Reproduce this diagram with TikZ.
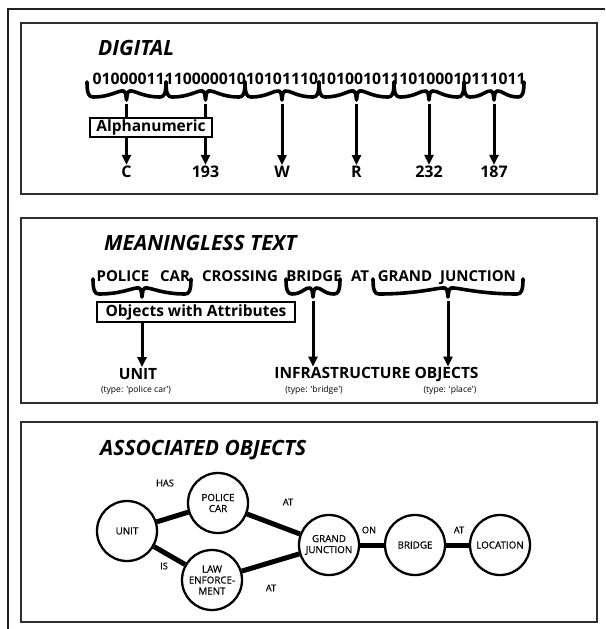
\documentclass[tikz,border=0pt]{standalone}
\usepackage{fontspec}
\setmainfont{Open Sans}
\newfontfamily\smallfont{Open Sans}[FakeBold=0.5]
\usetikzlibrary{arrows.meta}

% Heavy curly brace pointing down, from x=#1 to x=#2, hooks at y=#3; tip coordinate named #4
\newcommand\wavebrace[4]{%
  \pgfmathsetmacro\wbl{#1}%
  \pgfmathsetmacro\wbr{#2}%
  \pgfmathsetmacro\wbt{#3}%
  \pgfmathsetmacro\wbm{(#1+#2)/2}%
  \pgfmathsetmacro\wbw{#2-#1}%
  \draw[brc] (\wbl,\wbt)
    .. controls (\wbl,\wbt+12) and (\wbl+2,\wbt+15) .. (\wbl+6,\wbt+15)
    .. controls (\wbl+0.3*\wbw,\wbt+15) and (\wbm-8,\wbt+8) .. (\wbm-3,\wbt+9)
    .. controls (\wbm-1,\wbt+10) .. (\wbm,\wbt+18)
    .. controls (\wbm+1,\wbt+10) .. (\wbm+3,\wbt+9)
    .. controls (\wbm+8,\wbt+8) and (\wbr-0.3*\wbw,\wbt+15) .. (\wbr-6,\wbt+15)
    .. controls (\wbr-2,\wbt+15) and (\wbr,\wbt+12) .. (\wbr,\wbt);
  \coordinate (#4) at (\wbm,\wbt+18);
}

\begin{document}
\begin{tikzpicture}[x=1pt,y=-1pt,
  frame/.style={draw=black!88, line width=2pt},
  panel/.style={draw=black!82, line width=2pt},
  title/.style={font=\fontsize{21}{23}\selectfont\bfseries\itshape, anchor=west, inner sep=0pt},
  bits/.style={font=\fontsize{15.8}{18}\selectfont\bfseries, inner sep=0pt},
  word/.style={font=\fontsize{15}{17}\selectfont\bfseries, inner sep=0pt, anchor=base},
  brc/.style={line width=3.6pt, line cap=round, line join=round},
  arr/.style={line width=3pt, -{Triangle[length=10pt,width=9pt]}},
  lbl/.style={font=\fontsize{16}{18}\selectfont\bfseries, inner sep=1pt},
  tag/.style={draw, line width=2.2pt, fill=white, font=\fontsize{15.5}{17}\selectfont\bfseries, inner sep=2pt},
  note/.style={font=\fontsize{8.6}{10}\selectfont, inner sep=0pt},
  obj/.style={circle, draw, line width=2.3pt, minimum size=60pt, inner sep=0pt, align=center,
              font=\smallfont\fontsize{9.8}{11}\selectfont},
  link/.style={line width=5pt},
  rel/.style={font=\smallfont\fontsize{9.3}{10}\selectfont, inner sep=0pt}]

\useasboundingbox (0,0) rectangle (605,629);
\fill[white] (0,0) rectangle (605,629);

% outer frame and the three panels
\draw[frame] (605,8.5) -- (8,8.5) -- (8,629);
\draw[panel] (21,23) rectangle (597,194);
\draw[panel] (21,218) rectangle (597,403);
\draw[panel] (21,422) rectangle (597,622);

% ---------------- DIGITAL ----------------
\node[title] (tDig) at (98,48) {DIGITAL};
\node[bits] (bin) at (309,79) {010000111100000101010111010100101110100010111011};

\wavebrace{87}{166}{82}{b1}
\wavebrace{166}{245}{82}{b2}
\wavebrace{245}{319}{82}{b3}
\wavebrace{319}{394}{82}{b4}
\wavebrace{394}{464}{82}{b5}
\wavebrace{464}{524}{82}{b6}

\node[lbl] (vC)   at (126.5,172) {C};
\node[lbl] (v193) at (205.5,172) {193};
\node[lbl] (vW)   at (282,172) {W};
\node[lbl] (vR)   at (356.5,172) {R};
\node[lbl] (v232) at (429,172) {232};
\node[lbl] (v187) at (494,172) {187};

\draw[arr] ([yshift=-4pt]b1) -- (b1 |- vC.north);
\draw[arr] ([yshift=-4pt]b2) -- (b2 |- v193.north);
\draw[arr] ([yshift=-4pt]b3) -- (b3 |- vW.north);
\draw[arr] ([yshift=-4pt]b4) -- (b4 |- vR.north);
\draw[arr] ([yshift=-4pt]b5) -- (b5 |- v232.north);
\draw[arr] ([yshift=-4pt]b6) -- (b6 |- v187.north);

\node[tag, minimum width=122pt, minimum height=19pt] (alnum) at (151,127.5) {Alphanumeric};

% ---------------- MEANINGLESS TEXT ----------------
\node[title] (tMean) at (104,243) {MEANINGLESS TEXT};

\node[word] (w1) at (123,281) {POLICE};
\node[word] (w2) at (175,281) {CAR};
\node[word] (w3) at (240,281) {CROSSING};
\node[word] (w4) at (314,281) {BRIDGE};
\node[word] (w5) at (360,281) {AT};
\node[word] (w6) at (405,281) {GRAND};
\node[word] (w7) at (478,281) {JUNCTION};

\wavebrace{93}{191}{279}{p1}
\wavebrace{286}{340}{279}{p2}
\wavebrace{373}{523}{279}{p3}

\node[lbl, font=\fontsize{15.5}{17}\selectfont\bfseries] (unitTxt) at (138,374) {UNIT};
\node[note] (unitType) at (136,390) {(type: \textquotesingle police car\textquotesingle)};
\node[lbl, font=\fontsize{15.5}{17}\selectfont\bfseries] (infra) at (376.5,375) {INFRASTRUCTURE OBJECTS};
\node[note] (bridgeType) at (314,390) {(type: \textquotesingle bridge\textquotesingle)};
\node[note] (placeType) at (450,390) {(type: \textquotesingle place\textquotesingle)};

\draw[arr] ([yshift=-4pt]p1) -- (p1 |- unitTxt.north);
\draw[arr] ([yshift=-4pt]p2) -- (p2 |- infra.north);
\draw[arr] ([yshift=-4pt]p3) -- (p3 |- infra.north);

\node[tag, minimum width=198pt, minimum height=20pt] (owa) at (196,312) {Objects with Attributes};

% ---------------- ASSOCIATED OBJECTS ----------------
\node[title] (tAssoc) at (100,450) {ASSOCIATED OBJECTS};

\node[obj] (unit)   at (127,531) {UNIT};
\node[obj] (police) at (218,503) {POLICE\\CAR};
\node[obj] (law)    at (212,580) {LAW\\ENFORCE-\\MENT};
\node[obj] (grand)  at (329,545) {GRAND\\JUNCTION};
\node[obj] (bridge) at (415,545) {BRIDGE};
\node[obj] (loc)    at (500,545) {LOCATION};

\draw[link] (unit) -- (police);
\draw[link] (unit) -- (law);
\draw[link] (police) -- (grand);
\draw[link] (law) -- (grand);
\draw[link] (grand) -- (bridge);
\draw[link] (bridge) -- (loc);

\node[rel] (rHas) at (165,483) {HAS};
\node[rel] (rIs)  at (164,566) {IS};
\node[rel] (rAt1) at (288,502) {AT};
\node[rel] (rAt2) at (271,588) {AT};
\node[rel] (rOn)  at (369,530) {ON};
\node[rel] (rAt3) at (459,530) {AT};

\end{tikzpicture}
\end{document}
